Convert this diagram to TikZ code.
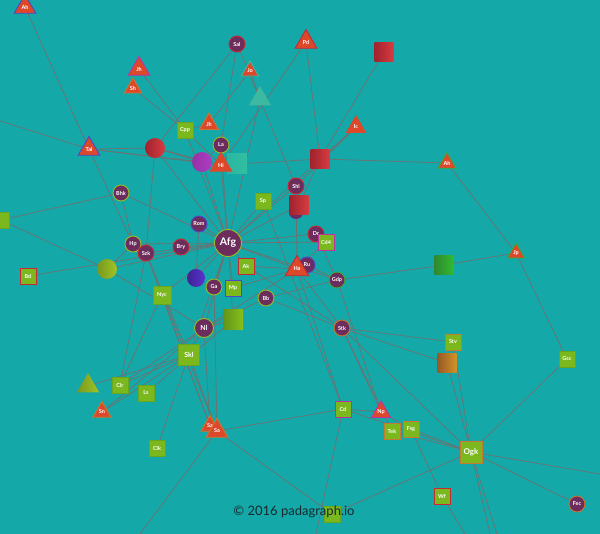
\documentclass[tikz,border=0pt]{standalone}
\usepackage{fontspec}
\setmainfont{Lato}
\usetikzlibrary{shapes.geometric}
\pgfdeclarelayer{bgl}
\pgfdeclarelayer{edges}
\pgfsetlayers{bgl,edges,main}
\definecolor{bgc}{RGB}{20,168,168}
\definecolor{edgec}{RGB}{112,112,112}
\definecolor{plum}{RGB}{108,44,92}
\definecolor{lgreen}{RGB}{122,184,30}
\definecolor{lgreenb}{RGB}{104,166,30}
\definecolor{tred}{RGB}{222,72,42}
\definecolor{ygb}{RGB}{150,190,40}
\definecolor{rbd}{RGB}{200,40,50}
\definecolor{bluebd}{RGB}{80,70,200}
\definecolor{mbd}{RGB}{190,50,160}
\definecolor{obd}{RGB}{200,120,50}
\definecolor{gbd}{RGB}{60,170,60}
\definecolor{reda}{RGB}{160,35,45}
\definecolor{redb}{RGB}{215,60,65}
\definecolor{tealsq}{RGB}{50,190,160}
\definecolor{tealtri}{RGB}{60,185,160}
\definecolor{purp}{RGB}{175,60,195}
\definecolor{bluec}{RGB}{90,50,210}
\definecolor{footc}{RGB}{25,40,45}
\tikzset{
 lbl/.style={text=white, font=\fontsize{5.5}{6}\selectfont\bfseries},
 circ/.style={circle, fill=plum, draw=#1, line width=0.9pt, minimum size=16pt, inner sep=0pt, lbl},
 circ/.default=ygb,
 sqr/.style={rectangle, fill=lgreen, draw=#1, line width=0.9pt, minimum size=16pt, inner sep=0pt, lbl},
 sqr/.default=lgreenb,
 tri/.style={regular polygon, regular polygon sides=3, fill=tred, draw=#1, line width=0.9pt, minimum size=25pt, inner sep=0pt, lbl},
 tri/.default=obd,
 rsq/.style={rectangle, minimum size=19pt, inner sep=0pt, left color=reda, right color=redb},
 ball/.style={circle, minimum size=20pt, inner sep=0pt},
 link/.style={draw=edgec, line width=0.7pt},
}
\begin{document}
\begin{tikzpicture}[x=1pt,y=-1pt]
\useasboundingbox (0,0) rectangle (600,534);
\begin{pgfonlayer}{bgl}
\fill[bgc] (0,0) rectangle (600,534);
\end{pgfonlayer}
% nodes
\node[tri=bluebd] (ah1) at (25,7) {Ah};
\node[circ=rbd] (sal) at (237,44) {Sal};
\node[tri=rbd] (pd) at (306,42) {Pd};
\node[rsq] (rsq1) at (384,52) {};
\node[tri=mbd] (jh1) at (139,69) {Jh};
\node[tri, minimum size=20pt] (sh) at (133,88) {Sh};
\node[tri=tealtri, minimum size=20pt] (jo) at (250,71) {Jo};
\node[regular polygon, regular polygon sides=3, fill=tealtri, minimum size=26pt, inner sep=0pt] (ttri) at (260,99) {};
\node[tri=tred, minimum size=22pt] (ic) at (356,127) {Ic};
\node[tri, minimum size=22pt] (ja) at (209,124) {Jh};
\node[sqr] (cpp) at (185,130) {Cpp};
\node[tri=bluebd] (tal) at (89,149) {Tal};
\node[ball, left color=reda, right color=redb] (rcirc) at (155,148) {};
\node[circ] (la) at (221,145) {La};
\node[ball, left color=purp!85!black, right color=purp] (pcirc) at (202,162) {};
\node[rectangle, minimum size=20pt, inner sep=0pt, left color=tealsq!70!bgc, right color=tealsq] (tsq) at (237,164) {};
\node[tri=tred] (hi) at (221,165) {Hi};
\node[rsq] (rsq2) at (320,159) {};
\node[tri=gbd, minimum size=21pt] (ahr) at (447,163) {Ah};
\node[sqr] (lsq) at (1,220) {};
\node[circ] (bhk) at (121,193) {Bhk};
\node[circ=rbd] (shl) at (296,186) {Shl};
\node[sqr] (sp) at (263,201) {Sp};
\node[circle, fill=plum, draw=bluebd, minimum size=14pt, inner sep=0pt] (pu) at (296,212) {};
\node[rsq] (rsq3) at (299,205) {};
\node[circ=bluebd] (rom) at (199,224) {Rom};
\node[circ, minimum size=27pt, font=\fontsize{10.5}{11}\selectfont\bfseries] (afg) at (228,243) {Afg};
\node[circ] (hp) at (133,244) {Hp};
\node[circ=rbd] (szk) at (146,253) {Szk};
\node[circ=rbd] (bry) at (181,247) {Bry};
\node[circ=rbd] (dr) at (316,234) {Dr};
\node[circ=bluebd] (ru) at (307,265) {Ru};
\node[tri=rbd, minimum size=27pt] (ha) at (297,269) {Ha};
\node[sqr=mbd] (cd4) at (326,242) {Cd4};
\node[circ=gbd] (gdp) at (337,280) {Gdp};
\node[ball, left color=ygb!80!black, right color=ygb!90!yellow] (ycirc) at (107,269) {};
\node[sqr=rbd] (bd) at (28,276) {Bd};
\node[sqr=rbd] (ak) at (246,266) {Ak};
\node[ball, minimum size=18pt, left color=bluec!70!black, right color=bluec] (bcirc) at (196,278) {};
\node[circ] (ga) at (214,287) {Ga};
\node[sqr=bluebd] (mp) at (233,288) {Mp};
\node[sqr, minimum size=18pt] (nyc) at (162,295) {Nyc};
\node[circ] (bb) at (266,298) {Bb};
\node[rectangle, minimum size=20pt, inner sep=0pt, left color=lgreen!80!black, right color=lgreen!90!yellow] (gsq1) at (233,320) {};
\node[circ, minimum size=19pt, font=\fontsize{7}{7}\selectfont\bfseries] (nl) at (204,328) {Nl};
\node[rectangle, minimum size=19pt, inner sep=0pt, left color=gbd!80!black, right color=gbd!80!green] (gsq2) at (444,265) {};
\node[tri=gbd, minimum size=20pt] (jp) at (516,253) {Jp};
\node[circ=obd] (stk) at (342,328) {Stk};
\node[sqr=obd] (stv) at (453,342) {Stv};
\node[rectangle, minimum size=19pt, inner sep=0pt, left color=obd!75!black, right color=obd!80!yellow] (osq) at (447,363) {};
\node[sqr] (gsc) at (567,359) {Gsc};
\node[sqr, minimum size=21pt, font=\fontsize{7}{7}\selectfont\bfseries] (skl) at (189,355) {Skl};
\node[regular polygon, regular polygon sides=3, left color=ygb!80!black, right color=ygb!90!yellow, minimum size=26pt, inner sep=0pt] (gtri) at (88,386) {};
\node[sqr] (clr) at (120,385) {Clr};
\node[sqr] (ls) at (146,393) {Ls};
\node[tri, minimum size=21pt] (sn) at (102,412) {Sn};
\node[tri, minimum size=21pt] (sa1) at (210,426) {Sa};
\node[tri] (sa2) at (217,431) {Sa};
\node[sqr] (clk) at (157,448) {Clk};
\node[sqr=mbd] (cd) at (343,409) {Cd};
\node[tri=mbd, minimum size=22pt] (np) at (381,412) {Np};
\node[sqr=obd] (tek) at (392,431) {Tek};
\node[sqr=obd] (fsg) at (411,429) {Fsg};
\node[sqr=obd, minimum size=22pt, font=\fontsize{8}{8}\selectfont\bfseries] (ogk) at (471,452) {Ogk};
\node[sqr=rbd] (wf) at (442,496) {Wf};
\node[circ=obd] (fec) at (577,504) {Fec};
\node[sqr] (bsq) at (332,514) {};
\coordinate (cl1) at (0,121);
\coordinate (cr1) at (600,474);
\coordinate (cb1) at (140,534);
\coordinate (cb2) at (316,534);
\coordinate (cb3) at (465,534);
\coordinate (cb4) at (490,534);
\coordinate (cb5) at (497,534);
% edges
\begin{pgfonlayer}{edges}
\foreach \a/\b in {ah1/tal, tal/hp, cl1/tal, tal/rcirc, tal/hi, sal/rcirc, sal/la, sal/shl, jh1/cpp, cpp/afg, sh/cpp, jo/ja, jo/ttri, ttri/afg, ja/cpp, cpp/hi, pd/hi, pd/rsq2, rsq1/rsq2, ic/rsq2, ic/shl, ic/afg, rsq2/ahr, rsq2/tsq, rsq2/rsq3, ahr/jp, jp/gsq2, gsq2/gdp, jp/gsc, gsc/ogk, ogk/fec, ogk/cr1, ogk/cb4, ogk/cb5, ogk/bsq, ogk/stv, osq/ogk, stv/stk, osq/stk, stk/np, stk/tek, stk/ogk, cd/np, cd/ogk, cd/cb2, sa2/cd, sa2/bsq, sa2/cb1, wf/fsg, wf/cb3, tek/ogk, fsg/ogk, np/fsg, gdp/np, sp/cd,
afg/rom, afg/bry, afg/hp, afg/szk, afg/bhk, afg/sp, afg/shl, afg/rsq3, afg/dr, afg/cd4, afg/ha, afg/ak, afg/mp, afg/ga, afg/nl, afg/nyc, afg/skl, afg/bcirc, afg/la, afg/hi, afg/pcirc, afg/gdp, afg/ycirc, afg/bd, afg/rcirc,
bhk/lsq, bhk/hp, lsq/ycirc, ycirc/hp, ycirc/nl, hp/szk, szk/rcirc, szk/clr, szk/skl, szk/sa2, nl/clr, nl/sn, nl/skl, nl/sa1, nl/ha, nl/bb, skl/sn, skl/clr, skl/gtri, skl/sa2, clk/skl, ls/gsq1, clr/nyc, nyc/sa1, ga/sa2, bb/gdp, ak/stk, ak/ha, mp/ha, ha/stk, ha/cd4, dr/gdp, shl/rsq3, rsq3/pu, la/hi, pcirc/rcirc, rcirc/hi, rom/bcirc, gsq1/nl, gsq1/afg, ru/gdp, shl/ha, la/pcirc, tal/pcirc, bb/stk, sa1/szk, ha/cd}
  \draw[link] (\a.center) -- (\b.center);
\end{pgfonlayer}
\node[text=footc, font=\fontsize{13}{13}\selectfont, inner sep=0pt] (foot) at (294,512) {© 2016 padagraph.io};
\end{tikzpicture}
\end{document}
